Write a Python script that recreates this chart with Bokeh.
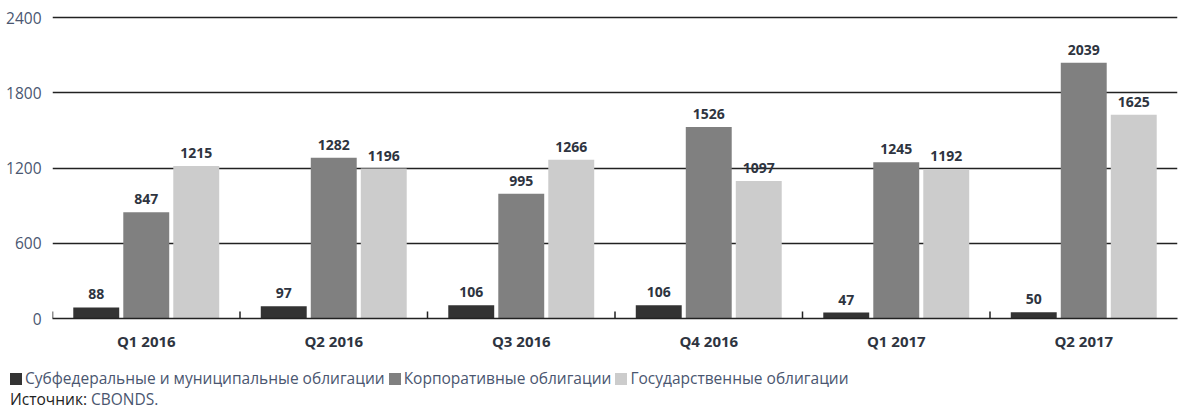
from bokeh.plotting import figure
from bokeh.layouts import column
from bokeh.models import ColumnDataSource, FactorRange, Range1d, FixedTicker, Div
from bokeh.transform import dodge
from bokeh.core.properties import value
from bokeh.embed import file_html
from bokeh.resources import INLINE

quarters = ["Q1 2016", "Q2 2016", "Q3 2016", "Q4 2016", "Q1 2017", "Q2 2017"]
subfederal = [88, 97, 106, 106, 47, 50]
corporate = [847, 1282, 995, 1526, 1245, 2039]
government = [1215, 1196, 1266, 1097, 1192, 1625]
series_names = ["Субфедеральные и муниципальные облигации", "Корпоративные облигации", "Государственные облигации"]
y_ticks = [0, 600, 1200, 1800, 2400]
source_label = "Источник:"
source_name = "CBONDS."

colors = ["#333333", "#808080", "#cccccc"]
FONT = "Open Sans"
TXT = "#2e3440"
SLATE = "#4a5670"

src = ColumnDataSource(dict(
    q=quarters, s=subfederal, c=corporate, g=government,
    s_t=[str(v) for v in subfederal], c_t=[str(v) for v in corporate], g_t=[str(v) for v in government],
))

p = figure(width=1178, height=358, output_backend="svg", toolbar_location=None,
           x_range=FactorRange(factors=quarters, range_padding=0), y_range=Range1d(0, 2416),
           min_border_left=52, min_border_right=1, min_border_top=15, min_border_bottom=40)
p.outline_line_color = None

offs = [-0.2667, 0.0, 0.2667]
fields = ["s", "c", "g"]
for off, f, col in zip(offs, fields, colors):
    p.vbar(x=dodge("q", off, range=p.x_range), top=f, width=0.245, source=src,
           fill_color=col, line_color=None)
    p.text(x=dodge("q", off, range=p.x_range), y=f, text=f + "_t", source=src,
           text_align="center", text_baseline="bottom", y_offset=-8,
           text_font=value(FONT), text_font_style="bold", text_font_size="14px", text_color=TXT)

# group boundary ticks on the baseline
bounds = list(range(len(quarters)))
p.segment(x0=bounds, x1=bounds, y0=[0] * len(bounds), y1=[55] * len(bounds),
          line_color="#222222", line_width=1.5)

p.yaxis.ticker = FixedTicker(ticks=y_ticks)
p.yaxis.axis_line_color = None
p.yaxis.major_tick_line_color = None
p.yaxis.minor_tick_line_color = None
p.yaxis.major_label_text_font = FONT
p.yaxis.major_label_text_font_size = "15.5px"
p.yaxis.major_label_text_color = SLATE
p.yaxis.major_label_standoff = 5

p.xaxis.axis_line_color = "#222222"
p.xaxis.axis_line_width = 1.5
p.xaxis.major_tick_line_color = None
p.xaxis.major_label_text_font = FONT
p.xaxis.major_label_text_font_style = "bold"
p.xaxis.major_label_text_font_size = "15px"
p.xaxis.major_label_text_color = TXT
p.xaxis.major_label_standoff = 6

p.xgrid.grid_line_color = None
p.ygrid.ticker = FixedTicker(ticks=y_ticks)
p.ygrid.grid_line_color = "#222222"
p.ygrid.grid_line_width = 1.5

# legend + source as HTML strip below the chart
swatch = ('<span style="display:inline-block;width:12px;height:12px;background:{c};'
          'vertical-align:-1px;margin-right:3px"></span>')
items = "&nbsp;".join(swatch.format(c=c) + n for c, n in zip(colors, series_names))
html = (f'<div style="font-family:\'{FONT}\';font-size:15.5px;color:{SLATE};line-height:21px;'
        f'padding:10px 0 0 10px;white-space:nowrap">{items}<br>'
        f'<span style="color:#222222">{source_label}</span> {source_name}</div>')
div = Div(text=html, width=1178, height=54, margin=(0, 0, 0, 0))

layout = column(p, div, spacing=0)
open("out.html", "w").write(file_html(layout, INLINE))
